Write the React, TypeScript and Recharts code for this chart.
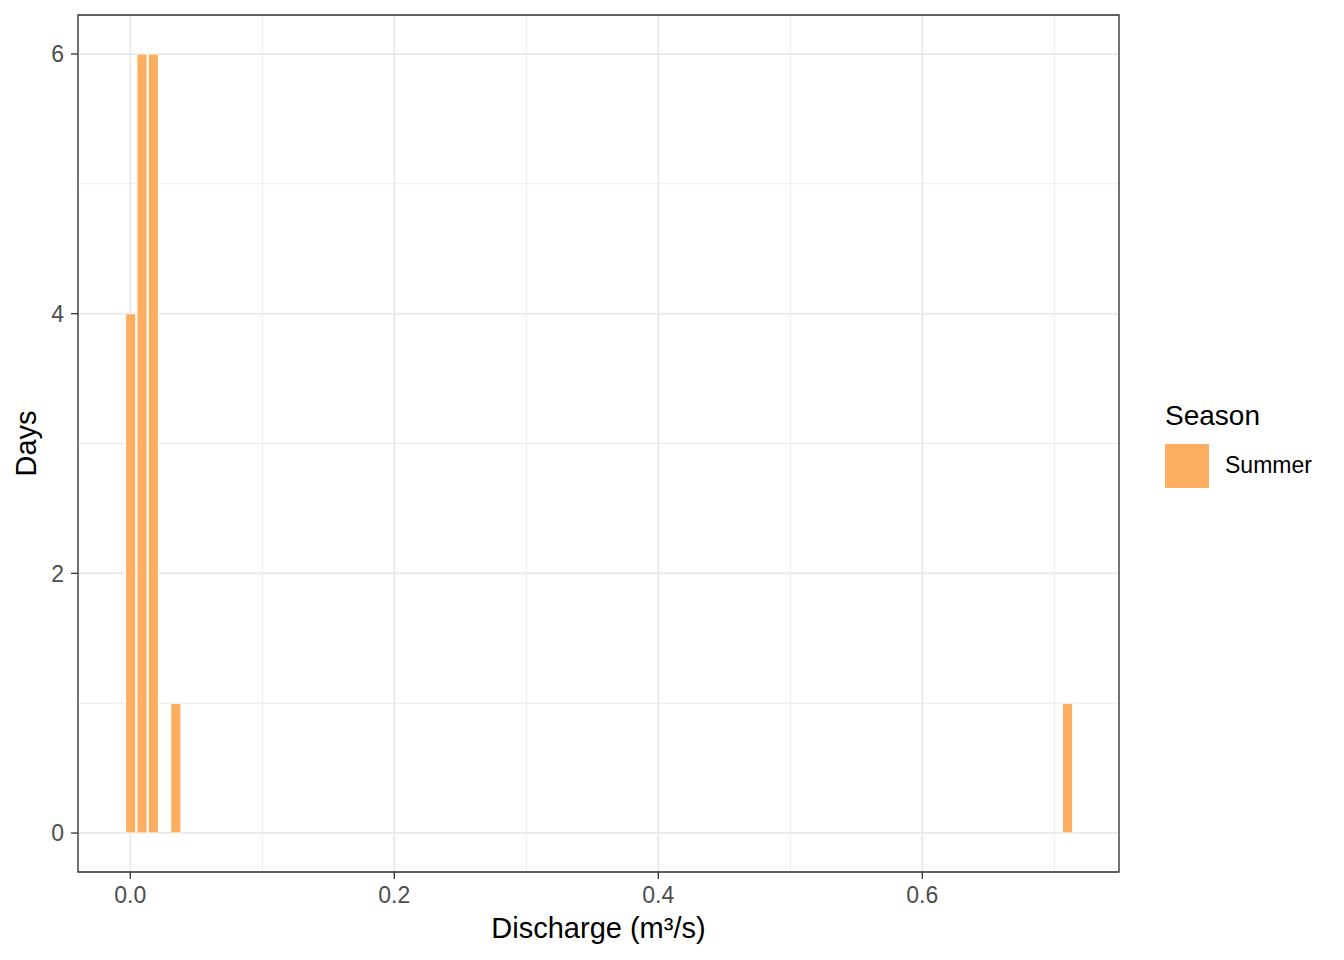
import {
  ComposedChart,
  Bar,
  XAxis,
  YAxis,
  CartesianGrid,
  Legend,
  ReferenceArea,
} from "recharts";

// histogram bins (centre of bin, in m³/s) and day counts
const binCenters = [0, 0.00855, 0.0171, 0.0342, 0.7097];
const days = [4, 6, 6, 1, 1];

const xTicks = [0, 0.2, 0.4, 0.6];
const xMinor = [0.1, 0.3, 0.5, 0.7];
const yTicks = [0, 2, 4, 6];
const yMinor = [1, 3, 5];
const xDomain = [-0.0396, 0.749];
const yDomain = [-0.3, 6.3];

const FILL = "#FDAE61";
const FONT = "'Liberation Sans', Arial, Helvetica, sans-serif";

const data = binCenters.map((x, i) => ({ discharge: x, Summer: days[i] }));

function LegendBox() {
  return (
    <svg width={200} height={110} style={{ fontFamily: FONT }}>
      <text x={5} y={35} fontSize={28} fill="#000">
        Season
      </text>
      <rect x={5} y={54} width={44} height={44} fill={FILL} />
      <text x={65} y={83} fontSize={23} fill="#000">
        Summer
      </text>
    </svg>
  );
}

export default function App() {
  const tickStyle = { fontSize: 23, fill: "#4D4D4D", fontFamily: FONT };
  return (
    <div style={{ position: "absolute", left: 0, top: 0, background: "#fff" }}>
      <ComposedChart
        width={1344}
        height={960}
        data={data}
        margin={{ top: 15, right: 225, bottom: 0, left: 0 }}
        barCategoryGap={0}
        barGap={0}
      >
        {/* minor grid from hidden axes */}
        <CartesianGrid
          xAxisId="minor"
          yAxisId="minor"
          stroke="#EBEBEB"
          strokeWidth={1}
        />
        <CartesianGrid stroke="#EBEBEB" strokeWidth={2} />
        <XAxis
          xAxisId="minor"
          dataKey="discharge"
          type="number"
          domain={xDomain}
          ticks={xMinor}
          allowDataOverflow
          hide
        />
        <YAxis
          yAxisId="minor"
          type="number"
          domain={yDomain}
          ticks={yMinor}
          allowDataOverflow
          hide
        />
        <XAxis
          dataKey="discharge"
          type="number"
          domain={xDomain}
          ticks={xTicks}
          allowDataOverflow
          tickFormatter={(v) => Number(v).toFixed(1)}
          height={88}
          axisLine={false}
          tickSize={7}
          tickMargin={8}
          tickLine={{ stroke: "#333333", strokeWidth: 1.3 }}
          tick={tickStyle}
          label={{
            content: ({ viewBox }: any) => (
              <text
                x={viewBox.x + viewBox.width / 2}
                y={viewBox.y + 66}
                textAnchor="middle"
                fontSize={29}
                fontFamily={FONT}
                fill="#000"
              >
                Discharge (m³/s)
              </text>
            ),
          }}
        />
        <YAxis
          type="number"
          domain={yDomain}
          ticks={yTicks}
          allowDataOverflow
          width={78}
          axisLine={false}
          tickSize={7}
          tickMargin={7}
          tickLine={{ stroke: "#333333", strokeWidth: 1.3 }}
          tick={tickStyle}
          label={{
            content: ({ viewBox }: any) => {
              const cx = viewBox.x + 26;
              const cy = viewBox.y + viewBox.height / 2;
              return (
                <text
                  x={cx}
                  y={cy}
                  transform={`rotate(-90, ${cx}, ${cy})`}
                  textAnchor="middle"
                  dominantBaseline="central"
                  fontSize={29}
                  fontFamily={FONT}
                  fill="#000"
                >
                  Days
                </text>
              );
            },
          }}
        />
        <Legend
          layout="vertical"
          align="center"
          verticalAlign="middle"
          content={() => <LegendBox />}
          wrapperStyle={{ left: 1160, top: 390, width: 200, height: 110 }}
        />
        <Bar
          dataKey="Summer"
          fill={FILL}
          stroke="#FFFFFF"
          strokeWidth={1}
          barSize={11.3}
          isAnimationActive={false}
        />
        <ReferenceArea
          x1={xDomain[0]}
          x2={xDomain[1]}
          y1={yDomain[0]}
          y2={yDomain[1]}
          fill="none"
          stroke="#333333"
          strokeWidth={1.3}
          ifOverflow="extendDomain"
        />
      </ComposedChart>
    </div>
  );
}
